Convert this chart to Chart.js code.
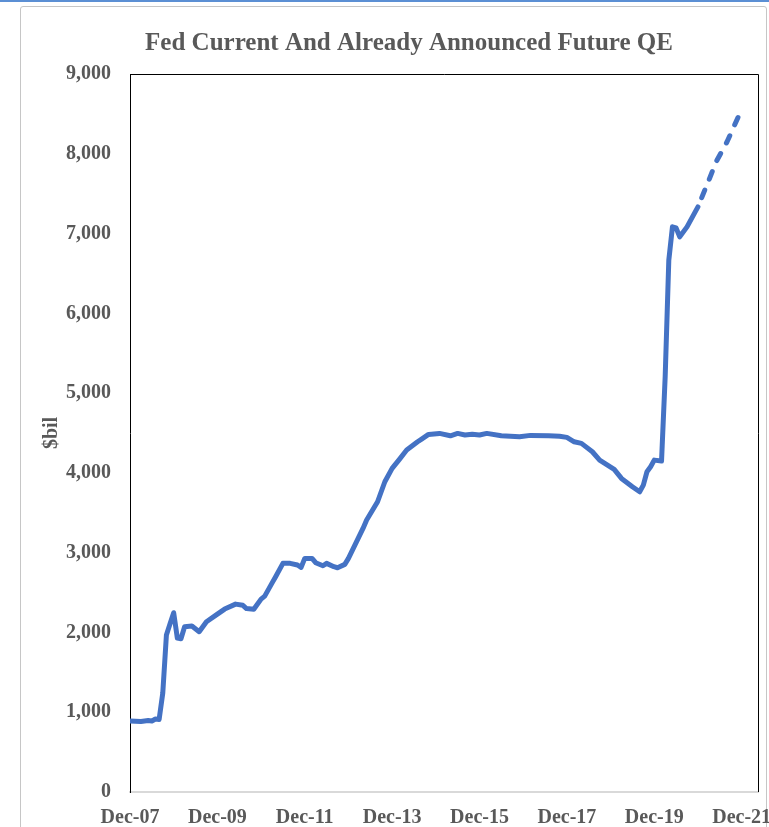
<!DOCTYPE html>
<html><head><meta charset="utf-8">
<script src="https://cdn.jsdelivr.net/npm/chart.js@4.4.1/dist/chart.umd.min.js"></script>
<style>
html,body{margin:0;padding:0;background:#fff;}
body{width:769px;height:827px;overflow:hidden;position:relative;}
#topbar{position:absolute;left:0;top:0;width:769px;height:2px;background:#5b8fd4;}
#frame{position:absolute;left:20px;top:6px;width:745px;height:900px;border:1px solid #c6c6c6;border-radius:3px;}
#c{position:absolute;left:0;top:0;}
</style></head><body>
<div id="topbar"></div><div id="frame"></div>
<canvas id="c" width="785" height="827"></canvas>
<script>
// Months since Dec-07
const tickMonths = [0, 24, 48, 72, 96, 120, 144, 168];
const tickLabels = ['Dec-07', 'Dec-09', 'Dec-11', 'Dec-13', 'Dec-15', 'Dec-17', 'Dec-19', 'Dec-21'];

const actualMonths = [0, 3, 5, 6, 7, 8, 9, 10, 11, 12, 13, 14, 15, 17, 19, 21, 24, 26, 29, 31, 32, 34, 36, 37, 39, 40, 42, 44, 46, 47, 48, 50, 51, 53, 54, 56, 57, 59, 60, 62, 64, 65, 68, 70, 72, 74, 76, 79, 80, 82, 85, 88, 90, 92, 94, 96, 98, 102, 107, 110, 115, 118, 120, 122, 124, 127, 129, 133, 135, 138, 140, 141, 142, 143, 144, 146, 147, 148, 149, 150, 151, 153, 156];
const actualValues = [890, 885, 895, 890, 915, 910, 1240, 1967, 2110, 2247, 1930, 1920, 2072, 2080, 2009, 2134, 2230, 2293, 2355, 2340, 2300, 2290, 2418, 2455, 2618, 2698, 2866, 2866, 2845, 2815, 2928, 2928, 2874, 2836, 2866, 2824, 2811, 2853, 2928, 3116, 3304, 3409, 3638, 3889, 4056, 4169, 4286, 4390, 4420, 4482, 4495, 4465, 4495, 4475, 4485, 4475, 4495, 4465, 4453, 4470, 4466, 4460, 4445, 4390, 4370, 4265, 4160, 4044, 3931, 3826, 3763, 3847, 4014, 4077, 4160, 4148, 5204, 6667, 7084, 7071, 6959, 7084, 7335];

const futureMonths = [156, 159, 161, 164, 167];
const futureValues = [7335, 7669, 7899, 8150, 8455];

const toXY = (xs, ys) => xs.map((x, i) => ({x: x, y: ys[i]}));

const FONT = '"Liberation Serif", "Times New Roman", serif';
const TEXT = '#595959';
const BLUE = '#4472C4';

const plotBorder = {
  id: 'plotBorder',
  beforeDatasetsDraw(chart) {
    const {ctx, chartArea: {left, top, right, bottom}} = chart;
    ctx.save();
    ctx.strokeStyle = '#000';
    ctx.lineWidth = 1;
    ctx.beginPath();
    ctx.moveTo(left, Math.round(top) + 0.5);
    ctx.lineTo(Math.round(right) + 0.5, Math.round(top) + 0.5);
    ctx.lineTo(Math.round(right) + 0.5, bottom);
    ctx.stroke();
    ctx.restore();
  }
};

new Chart(document.getElementById('c'), {
  type: 'line',
  data: {
    datasets: [
      {
        data: toXY(actualMonths, actualValues),
        borderColor: BLUE, borderWidth: 5, pointRadius: 0, tension: 0,
        borderJoinStyle: 'round', borderCapStyle: 'round', fill: false
      },
      {
        data: toXY(futureMonths, futureValues),
        borderColor: BLUE, borderWidth: 5, pointRadius: 0, tension: 0,
        borderDash: [8, 12], borderDashOffset: -10,
        borderJoinStyle: 'round', borderCapStyle: 'round', fill: false
      }
    ]
  },
  options: {
    responsive: false, animation: false, devicePixelRatio: 1,
    layout: {padding: {left: 33, right: 0, top: 0, bottom: 0}},
    plugins: {
      legend: {display: false},
      tooltip: {enabled: false},
      title: {
        display: true,
        text: 'Fed Current And Already Announced Future QE',
        color: TEXT,
        font: {family: FONT, size: 25, weight: 'bold', lineHeight: 1.2},
        padding: {top: 29, bottom: 15}
      }
    },
    scales: {
      x: {
        type: 'linear', min: 0, max: 172.5,
        grid: {display: false, drawTicks: false},
        border: {display: true, color: '#d9d9d9', width: 2},
        afterBuildTicks(s) { s.ticks = tickMonths.map(v => ({value: v})); },
        afterFit(s) { s.height = 35; s.paddingLeft = 0; s.paddingRight = 27; },
        ticks: {
          padding: 14, color: TEXT, maxRotation: 0, autoSkip: false,
          font: {family: FONT, size: 20, weight: 'bold', lineHeight: 1.2},
          callback: (v, i) => tickLabels[i]
        }
      },
      y: {
        min: 0, max: 9000,
        grid: {display: false, drawTicks: false},
        border: {display: true, color: '#000', width: 1},
        afterFit(s) { s.width = 97; },
        ticks: {
          stepSize: 1000, padding: 19, color: TEXT,
          font: {family: FONT, size: 20, weight: 'bold', lineHeight: 1.2},
          callback: v => v.toLocaleString('en-US')
        },
        title: {
          display: true, text: '$bil', color: TEXT,
          font: {family: FONT, size: 20, weight: 'bold', lineHeight: 1.2},
          padding: {top: 7, bottom: 0}
        }
      }
    }
  },
  plugins: [plotBorder]
});
</script>
</body></html>
